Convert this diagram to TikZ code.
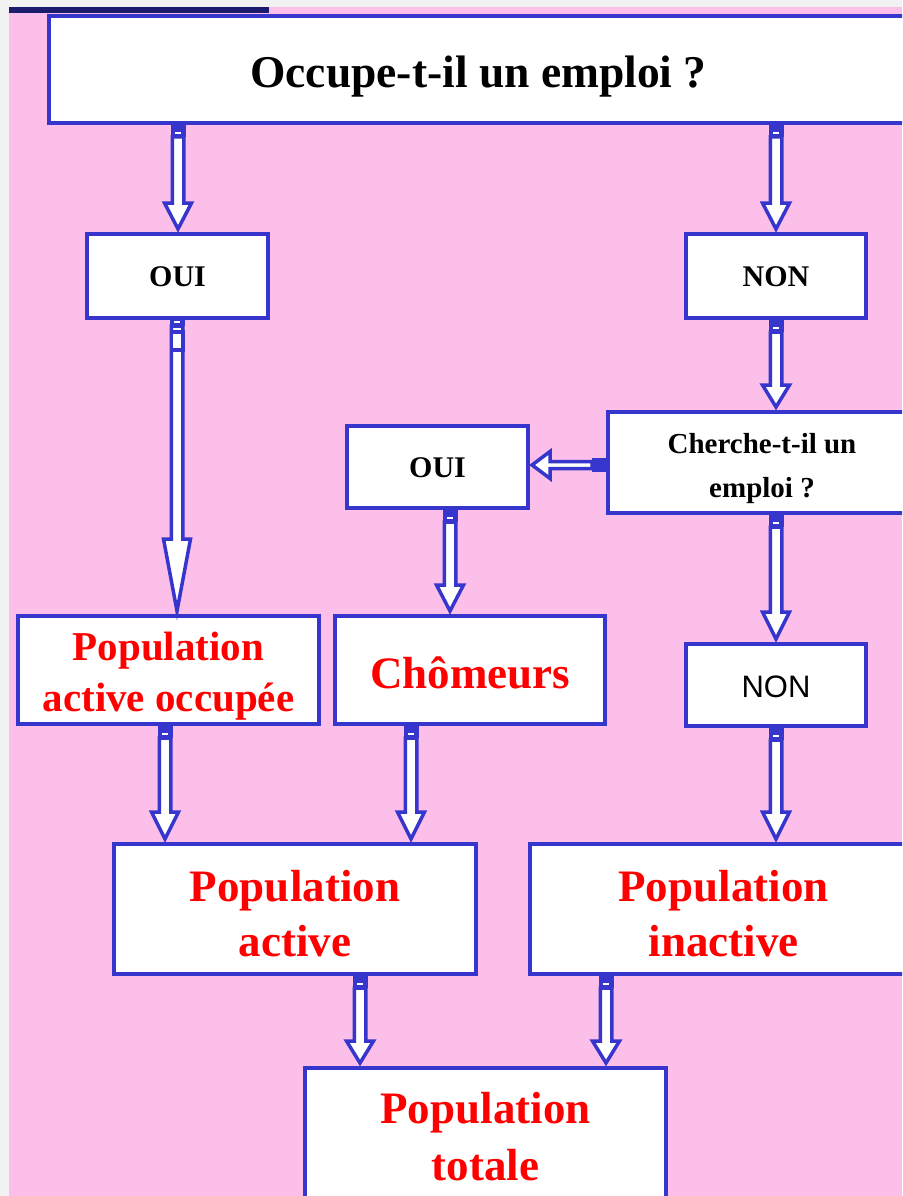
\documentclass[tikz,border=0pt]{standalone}
\usepackage{fontspec}
\setmainfont{Liberation Serif}
\newfontfamily\arialf{Liberation Sans}
\usetikzlibrary{calc}
\definecolor{bgpink}{RGB}{252,191,234}
\definecolor{bblue}{RGB}{54,54,204}
\definecolor{navybar}{RGB}{28,28,110}
\definecolor{marginc}{RGB}{242,242,242}
\tikzset{
  box/.style={draw=bblue, line width=4pt, fill=white, rectangle, inner sep=0pt},
  txt/.style={inner sep=0pt, align=center},
  qtext/.style={txt, font=\bfseries\fontsize{30}{36}\selectfont},
  redtext/.style={txt, text=red, font=\bfseries\fontsize{45}{55}\selectfont},
  arrowbody/.style={draw=bblue, fill=white, line width=3.5pt, line join=miter},
  stub/.style={fill=bblue},
}
% #1 start offset of shaft, #2 x, #3 source, #4 target, #5 head length
\newcommand\dnarrow[5][12]{%
  \path (#2,0 |- #3.south) coordinate (as) (#2,0 |- #4.north) coordinate (ae);
  \fill[stub] ($(as)+(-7.5,-3)$) rectangle ($(as)+(7.5,#1)$);
  \fill[white] ($(as)+(-3,#1-5)$) rectangle ($(as)+(3,#1-3)$);
  \draw[arrowbody] ($(as)+(-5.75,#1)$) -- ($(ae)+(-5.75,-#5)$) -- ($(ae)+(-13.5,-#5)$)
     -- ($(ae)+(0,-3)$) -- ($(ae)+(13.5,-#5)$) -- ($(ae)+(5.75,-#5)$) -- ($(as)+(5.75,#1)$) -- cycle;
}
\begin{document}
\begin{tikzpicture}[x=1pt,y=-1pt]
\useasboundingbox (0,0) rectangle (902,1196);
\clip (0,0) rectangle (902,1196);
\fill[marginc] (0,0) rectangle (902,1196);
\fill[bgpink] (9,7) rectangle (902,1196);
\fill[navybar] (9,7) rectangle (269,13);

% boxes
\node[box, minimum width=859, minimum height=107] (q1) at (478.5,69.5) {};
\node[box, minimum width=181, minimum height=84] (oui1) at (177.5,276) {};
\node[box, minimum width=180, minimum height=84] (non1) at (776,276) {};
\node[box, minimum width=308, minimum height=101] (q2) at (762,462.5) {};
\node[box, minimum width=181, minimum height=82] (oui2) at (437.5,467) {};
\node[box, minimum width=301, minimum height=108] (occ) at (168.5,670) {};
\node[box, minimum width=270, minimum height=108] (cho) at (470,670) {};
\node[box, minimum width=180, minimum height=82] (non2) at (776,685) {};
\node[box, minimum width=362, minimum height=130] (act) at (295,909) {};
\node[box, minimum width=387, minimum height=130] (inact) at (723.5,909) {};
\node[box, minimum width=361, minimum height=138] (tot) at (485.5,1137) {};

% texts
\node[txt, font=\bfseries\fontsize{45.5}{54}\selectfont] (q1t) at ($(q1.center)+(0,7)$) {Occupe-t-il un emploi ?};
\node[qtext] (oui1t) at ($(oui1.center)+(0,1)$) {OUI};
\node[qtext] (non1t) at ($(non1.center)+(0,1)$) {NON};
\node[txt, font=\bfseries\fontsize{29}{44}\selectfont] (q2t) at ($(q2.center)+(0,6)$) {Cherche-t-il un\\emploi ?};
\node[qtext] (oui2t) at ($(oui2.center)+(0,1)$) {OUI};
\node[txt, text=red, font=\bfseries\fontsize{41}{51}\selectfont] (occt) at ($(occ.center)+(0,6)$) {Population\\active occupée};
\node[redtext] (chot) at ($(cho.center)+(0,3)$) {Chômeurs};
\node[txt, font=\arialf\fontsize{31}{37}\selectfont] (non2t) at ($(non2.center)+(0,2)$) {NON};
\node[redtext] (actt) at ($(act.center)+(0,5)$) {Population\\active};
\node[redtext] (inactt) at ($(inact.center)+(0,5)$) {Population\\inactive};
\node[txt, text=red, font=\bfseries\fontsize{45}{57}\selectfont] (tott) at (tot.center) {Population\\totale};

% connectors
\dnarrow{178}{q1}{oui1}{29}
\dnarrow{776}{q1}{non1}{29}
\dnarrow[6]{177}{oui1}{occ}{75}
\draw[arrowbody] (171.25,332) rectangle (182.75,350);
\dnarrow{776}{non1}{q2}{25}
\dnarrow{450}{oui2}{cho}{29}
\dnarrow{776}{q2}{non2}{30}
\dnarrow{165}{occ}{act}{30}
\dnarrow{411}{cho}{act}{30}
\dnarrow{776}{non2}{inact}{30}
\dnarrow{360}{act}{tot}{25}
\dnarrow{606}{inact}{tot}{25}

% horizontal connector
\path (q2.west |- 0,465) coordinate (hs) (oui2.east |- 0,465) coordinate (he);
\fill[stub] ($(hs)+(3,-7)$) rectangle ($(hs)+(-14,7)$);
\draw[arrowbody] ($(hs)+(-14,-3.5)$) -- ($(he)+(20,-3.5)$) -- ($(he)+(20,-13.5)$) -- ($(he)+(2,0)$)
  -- ($(he)+(20,13.5)$) -- ($(he)+(20,3.5)$) -- ($(hs)+(-14,3.5)$) -- cycle;
\end{tikzpicture}
\end{document}
